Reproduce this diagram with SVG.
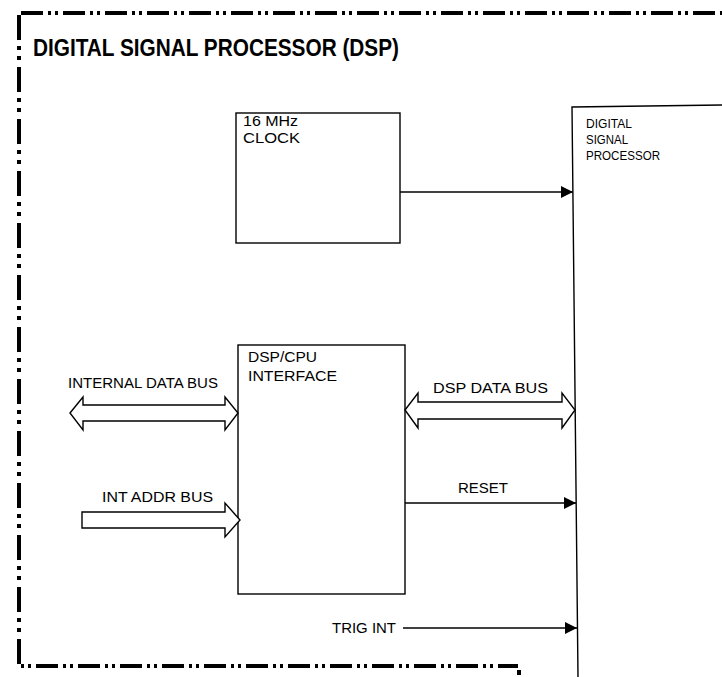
<svg xmlns="http://www.w3.org/2000/svg" width="722" height="677" viewBox="0 0 722 677">
<style>
.box{fill:#fff;stroke:#000;stroke-width:1.4}
.ln{fill:none;stroke:#000;stroke-width:1.4}
.hol{fill:#fff;stroke:#000;stroke-width:1.4;stroke-linejoin:miter}
.brd{fill:none;stroke:#000;stroke-width:4}
.t{font-family:"Liberation Sans",Arial,sans-serif;fill:#000}
.lbl{font-size:14px}
.bx{font-size:14px}
.title{font-size:24px;font-weight:bold}
</style>
<defs>
<marker id="ah" markerUnits="userSpaceOnUse" markerWidth="13" markerHeight="12" refX="12" refY="6" orient="auto">
<path d="M0,0 L12,6 L0,12 Z" fill="#000"/>
</marker>
</defs>
<rect width="722" height="677" fill="#fff"/>
<g id="border">
<path class="brd" d="M21,13 H722" stroke-dasharray="22 5 3 4 3 5"/>
<path class="brd" d="M19,15 V666" stroke-dasharray="25 6 4 6 4 7"/>
<path class="brd" d="M21,666 H518" stroke-dasharray="3 4 3 5 22 5"/>
<rect x="517" y="670" width="4" height="5" fill="#000"/>
<text class="t title" x="33" y="56" textLength="366" lengthAdjust="spacingAndGlyphs">DIGITAL SIGNAL PROCESSOR (DSP)</text>
</g>
<g id="clock">
<rect class="box" x="236" y="113" width="164" height="130"/>
<text class="t bx" x="243" y="126" textLength="55" lengthAdjust="spacingAndGlyphs">16 MHz</text>
<text class="t bx" x="243" y="143" textLength="57" lengthAdjust="spacingAndGlyphs">CLOCK</text>
</g>
<g id="interface">
<rect class="box" x="238" y="345" width="167" height="249"/>
<text class="t bx" x="248" y="362" textLength="69" lengthAdjust="spacingAndGlyphs">DSP/CPU</text>
<text class="t bx" x="248" y="381" textLength="89" lengthAdjust="spacingAndGlyphs">INTERFACE</text>
</g>
<g id="dsp">
<path class="ln" d="M578,677 L572,107 L722,105"/>
<text class="t" font-size="13" x="586" y="128" textLength="46" lengthAdjust="spacingAndGlyphs">DIGITAL</text>
<text class="t" font-size="13" x="586" y="144" textLength="42" lengthAdjust="spacingAndGlyphs">SIGNAL</text>
<text class="t" font-size="13" x="586" y="160" textLength="74" lengthAdjust="spacingAndGlyphs">PROCESSOR</text>
</g>
<g id="connectors">
<line class="ln" x1="400" y1="192" x2="573" y2="192" marker-end="url(#ah)"/>
<polygon class="hol" points="70,413 83,397 83,405 225,405 225,397 238,413 225,430 225,421 83,421 83,430"/>
<text class="t lbl" x="68" y="388" textLength="150" lengthAdjust="spacingAndGlyphs">INTERNAL DATA BUS</text>
<polygon class="hol" points="405,410 418,393 418,402 562,402 562,393 575,410 562,428 562,419 418,419 418,428"/>
<text class="t lbl" x="433" y="393" textLength="115" lengthAdjust="spacingAndGlyphs">DSP DATA BUS</text>
<polygon class="hol" points="82,512 225,512 225,503 240,520 225,537 225,528 82,528"/>
<text class="t lbl" x="102" y="502" textLength="111" lengthAdjust="spacingAndGlyphs">INT ADDR BUS</text>
<line class="ln" x1="405" y1="503" x2="576" y2="503" marker-end="url(#ah)"/>
<text class="t lbl" x="458" y="493" textLength="50" lengthAdjust="spacingAndGlyphs">RESET</text>
<line class="ln" x1="403" y1="628" x2="577" y2="628" marker-end="url(#ah)"/>
<text class="t lbl" x="332" y="633" textLength="64" lengthAdjust="spacingAndGlyphs">TRIG INT</text>
</g>
</svg>
